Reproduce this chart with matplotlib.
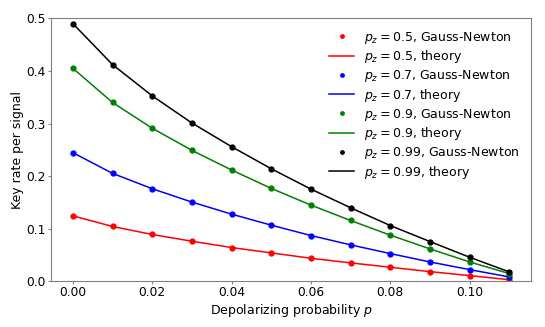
import matplotlib
matplotlib.use("Agg")
import matplotlib.pyplot as plt

# prawdopodobieństwo depolaryzacji
p = [0.00, 0.01, 0.02, 0.03, 0.04, 0.05, 0.06, 0.07, 0.08, 0.09, 0.10, 0.11]

# wartości Gauss-Newton i teoria (praktycznie identyczne)
r05 = [0.1245, 0.1042, 0.0890, 0.0762, 0.0642, 0.0540, 0.0438, 0.0350, 0.0267, 0.0184, 0.0108, 0.0030]
r07 = [0.2446, 0.2052, 0.1760, 0.1506, 0.1277, 0.1067, 0.0870, 0.0693, 0.0527, 0.0368, 0.0222, 0.0083]
r09 = [0.4050, 0.3400, 0.2910, 0.2490, 0.2116, 0.1766, 0.1449, 0.1156, 0.0877, 0.0616, 0.0368, 0.0146]
r099 = [0.4900, 0.4120, 0.3526, 0.3010, 0.2560, 0.2140, 0.1753, 0.1398, 0.1060, 0.0756, 0.0457, 0.0178]

pz = ['0.5', '0.7', '0.9', '0.99']
kolory = ['red', 'blue', 'green', 'black']
dane = [r05, r07, r09, r099]

plt.rcParams['font.size'] = 9
fig, ax = plt.subplots(figsize=(5.45, 3.27), dpi=100)

for z, c, r in zip(pz, kolory, dane):
    ax.plot(p, r, '.', color=c, markersize=7, label=r'$p_z = %s$, Gauss-Newton' % z)
    ax.plot(p, r, '-', color=c, linewidth=1.1, label=r'$p_z = %s$, theory' % z)

ax.set_ylim(0, 0.5)
ax.set_xlabel('Depolarizing probability $p$', labelpad=2)
ax.set_ylabel('Key rate per signal', labelpad=2)
for s in ax.spines.values():
    s.set_color('#808080')
ax.tick_params(color='#808080', length=2.5, pad=1.2, labelsize=8.8)
ax.legend(frameon=False, loc='upper right', markerscale=0.7, labelspacing=0.22)

fig.subplots_adjust(left=0.0936, right=0.9745, top=0.944, bottom=0.1398)
fig.savefig('out.png')
